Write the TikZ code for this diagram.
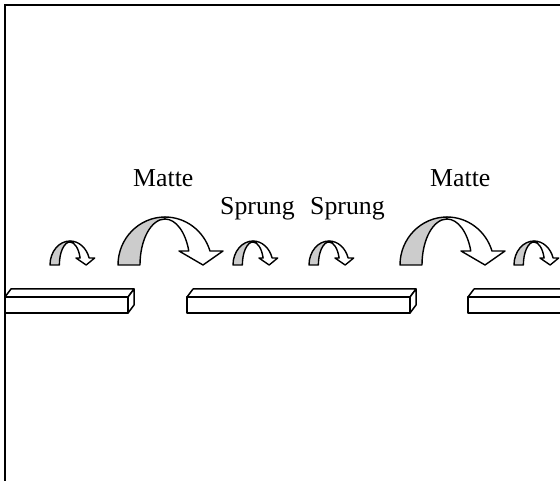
\documentclass[tikz,border=0pt]{standalone}
\usepackage{fontspec}
\setmainfont{Liberation Serif}
\definecolor{ribbon}{RGB}{204,204,204}
\begin{document}
\begin{tikzpicture}[x=1pt,y=1pt,
  outline/.style={draw=black, line width=1.4pt, line join=round},
  lbl/.style={font=\fontsize{25.8}{30}\selectfont, anchor=base west, inner sep=0pt},
  bar/.style={draw=black, fill=white, line width=1.5pt, line join=round},
  frameline/.style={draw=black, line width=1.8pt},
  pics/curvarrow/.style={code={
    \path[outline, fill=ribbon] (-47,0)
      arc[start angle=180, end angle=90, x radius=47, y radius=48]
      -- (0,46)
      arc[start angle=90, end angle=180, x radius=25, y radius=46]
      -- cycle;
    \path[outline, fill=white] (0,48)
      arc[start angle=90, end angle=16.96, x radius=47, y radius=48]
      -- (58,14) -- (38,0) -- (14,14) -- (23.8,14)
      arc[start angle=17.72, end angle=90, x radius=25, y radius=46]
      -- cycle;
  }}
]
\useasboundingbox (0,0) rectangle (560,480);
\clip (0,0) rectangle (560,480);
\fill[white] (0,0) rectangle (560,480);

% frame (only top and left visible)
\draw[frameline] (4.7,-10) -- (4.7,475.3) -- (580,475.3);

% bars
\path[bar] (5,167) rectangle (128,183);
\path[bar] (5,183) -- (11,191) -- (134,191) -- (128,183) -- cycle;
\path[bar] (128,167) -- (134,175) -- (134,191) -- (128,183) -- cycle;

\path[bar] (187,167) rectangle (410,183);
\path[bar] (187,183) -- (193,191) -- (416,191) -- (410,183) -- cycle;
\path[bar] (410,167) -- (416,175) -- (416,191) -- (410,183) -- cycle;

\path[bar] (468,167) rectangle (580,183);
\path[bar] (468,183) -- (474,191) -- (586,191) -- (580,183) -- cycle;

% arrows
\pic[xscale=0.4255, yscale=0.5] at (70,215) {curvarrow};
\pic at (165,215) {curvarrow};
\pic[xscale=0.4255, yscale=0.5] at (253,215) {curvarrow};
\pic[xscale=0.4255, yscale=0.5] at (329,215) {curvarrow};
\pic at (447,215) {curvarrow};
\pic[xscale=0.4255, yscale=0.5] at (534,215) {curvarrow};

% labels
\node[lbl] (matte1) at (133,293) {Matte};
\node[lbl] (sprung1) at (220,265) {Sprung};
\node[lbl] (sprung2) at (310,265) {Sprung};
\node[lbl] (matte2) at (430,293) {Matte};
\end{tikzpicture}
\end{document}
